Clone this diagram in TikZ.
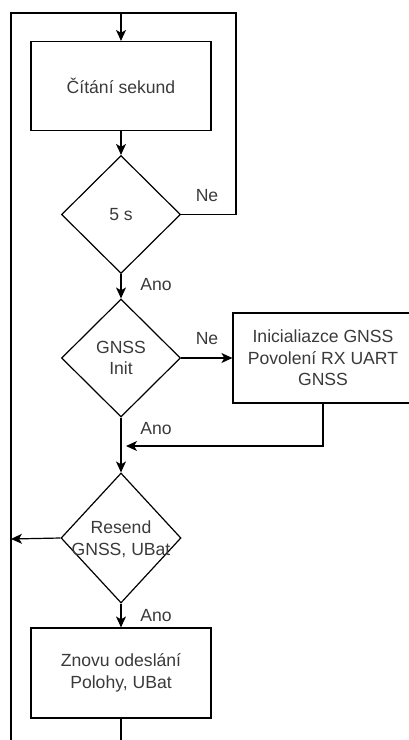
\documentclass[tikz,border=0pt]{standalone}
\usepackage{fontspec}
\setmainfont{Liberation Sans}
\usetikzlibrary{shapes.geometric,arrows.meta}
\definecolor{txt}{HTML}{3A3A3A}
\tikzset{
  every node/.style={font=\fontsize{17.6}{21.5}\selectfont, text=txt},
  line/.style={draw=black, line width=1.2pt},
  arr/.style={line, -{Stealth[length=11pt,width=10pt,inset=3pt]}},
  procbox/.style={line, rectangle, inner sep=0pt, align=center},
  decision/.style={line, diamond, inner sep=0pt, align=center, minimum width=119pt, minimum height=118pt},
  lbl/.style={inner sep=0pt}
}
\begin{document}
\begin{tikzpicture}[x=1pt,y=-1pt]
\useasboundingbox (0,0) rectangle (409,740);

% coordinates
\coordinate (tl) at (11,13);
\coordinate (tm) at (121,13);
\coordinate (tr) at (236,13);
\coordinate (bl) at (11,740);
\coordinate (bm) at (121,740);
\coordinate (lj) at (11,539);
\coordinate (jn) at (126,446);

% nodes
\node[procbox, minimum width=180pt, minimum height=89pt] (b1) at (121,86) {Čítání sekund};
\node[decision] (d1) at (121,214.5) {5 s};
\node[decision] (d2) at (121,358) {GNSS\\Init};
\node[procbox, minimum width=180pt, minimum height=90pt] (b2) at (323,358) {Inicialiazce GNSS\\Povolení RX UART\\GNSS};
\node[decision, minimum width=120pt, minimum height=130pt] (d3) at (121,538) {};
\node[lbl, align=center] at (121,539) {Resend\\GNSS, UBat};
\node[procbox, minimum width=180pt, minimum height=90pt] (b3) at (121,673) {Znovu odeslání\\Polohy, UBat};

% connectors
\draw[arr] (tm) -- (b1.north);
\draw[arr] (b1.south) -- (d1.north);
\draw[line] (d1.east) -- (236,214.5) -- (tr) -- (tl) -- (bl);
\draw[arr] (d1.south) -- (d2.north);
\draw[arr] (d2.east) -- (b2.west);
\draw[arr] (b2.south) |- (jn);
\draw[arr] (d2.south) -- (d3.north);
\draw[arr] (d3.west) -- (lj);
\draw[arr] (d3.south) -- (b3.north);
\draw[line] (b3.south) -- (bm);

% labels
\node[lbl] at (207,196) {Ne};
\node[lbl] at (156,285) {Ano};
\node[lbl] at (207,339) {Ne};
\node[lbl] at (156,429) {Ano};
\node[lbl] at (156,616) {Ano};
\end{tikzpicture}
\end{document}
